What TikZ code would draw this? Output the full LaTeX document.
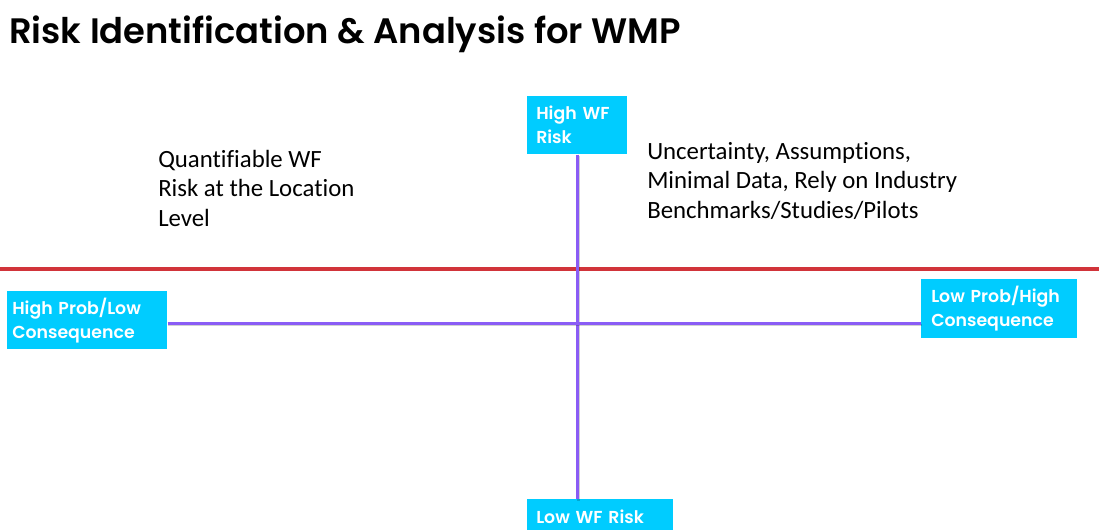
\documentclass[tikz,border=0pt]{standalone}
\usepackage{fontspec}
\setmainfont{Carlito}[Ligatures=NoCommon]
\newfontfamily\poppins{Poppins}[BoldFont={Poppins SemiBold}]
\usetikzlibrary{positioning}
\definecolor{boxcyan}{HTML}{00CCFF}
\definecolor{axispurple}{HTML}{8A5CF5}
\definecolor{splitred}{HTML}{D1343A}
\tikzset{
  riskbox/.style={fill=boxcyan, text=white, anchor=north west, align=left, inner ysep=0pt,
    font=\poppins\bfseries\fontsize{13}{18}\selectfont},
  note/.style={anchor=base west, align=left, inner sep=0pt, font=\fontsize{18.6}{22.1}\selectfont},
  axis/.style={draw=axispurple, line width=2.2pt,
    preaction={draw=black, draw opacity=0.18, line width=2.2pt, transform canvas={shift={(0.6pt,-1.3pt)}}}},
  splitline/.style={draw=splitred, line width=2.4pt}
}

\begin{document}
\begin{tikzpicture}[x=0.75pt,y=-0.75pt]
  \clip (0,0) rectangle (1099,529);
  \fill[white] (0,0) rectangle (1099,529);
  % title
  \node[anchor=base west, inner sep=0pt, font=\poppins\bfseries\fontsize{26.5}{32}\selectfont] (title) at (9,43)
    {Risk Identification \& Analysis for WMP};
  % quadrant boxes
  \node[riskbox, inner xsep=6.75pt, text width=61.5pt, minimum height=43.5pt] (highwf) at (527,96) {High WF\\Risk};
  \node[riskbox, inner xsep=6.75pt, text width=96pt, minimum height=27pt] (lowwf) at (527,499) {Low WF Risk};
  \node[riskbox, inner xsep=3.75pt, text width=112.5pt, minimum height=43.5pt] (highprob) at (7,291) {High Prob/Low\\Consequence};
  \node[riskbox, inner xsep=7.5pt, text width=102pt, minimum height=44.25pt] (lowprob) at (921,279) {Low Prob/High\\Consequence};
  % red split line
  \coordinate (splitl) at (0,269);
  \coordinate (splitr) at (1099,269);
  \draw[splitline] (splitl) -- (splitr);
  % axes
  \draw[axis] (highwf.south) -- (highwf.south |- lowwf.north);
  \draw[axis] ([yshift=-2.25pt]highprob.east) -- ([yshift=-2.25pt]highprob.east -| lowprob.west);
  % notes
  \node[note] (quant) at (158,226) {Quantifiable WF\\Risk at the Location\\Level};
  \node[note] (uncert) at (647,218) {Uncertainty, Assumptions,\\Minimal Data, Rely on Industry\\Benchmarks/Studies/Pilots};
\end{tikzpicture}
\end{document}
